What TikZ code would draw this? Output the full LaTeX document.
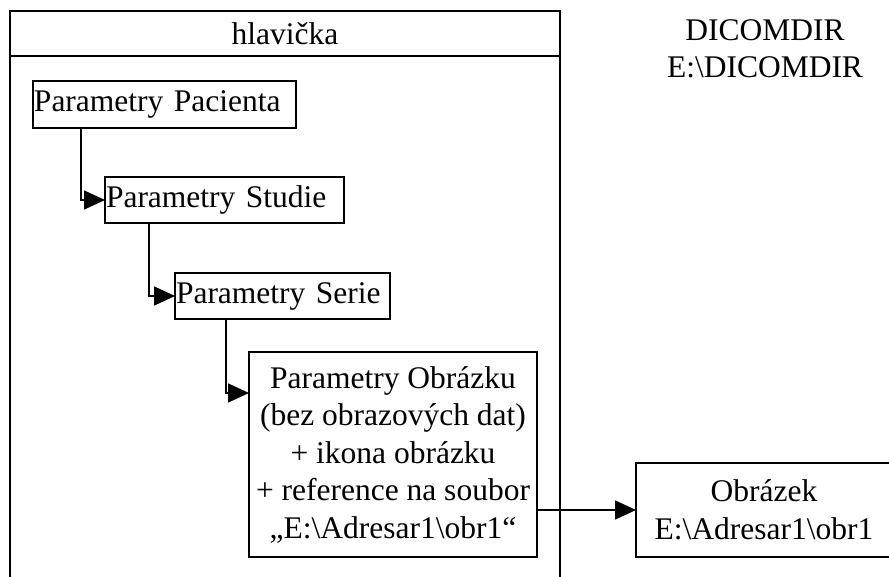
\documentclass[tikz,border=0pt]{standalone}
\usepackage{fontspec}
\setmainfont{Liberation Serif}
\usetikzlibrary{arrows.meta,calc}
\begin{document}
\begin{tikzpicture}[x=1pt,y=-1pt,
  every node/.style={font=\fontsize{31.5}{37.5}\selectfont},
  box/.style={draw,line width=1.6pt,inner sep=0pt,outer sep=0pt},
  leftbox/.style={box,anchor=north west,align=left,inner xsep=1pt},
  link/.style={line width=1.6pt,-{Triangle[length=21pt,width=19pt]}},
  plain/.style={line width=1.6pt}]
\useasboundingbox (0,0) rectangle (889,576);
\clip (0,0) rectangle (889,576);
% outer frame with its header
\draw[plain] (10,600) -- (10,11) -- (560,11) -- (560,600);
\node[box,minimum width=550pt,minimum height=45pt] (head) at (285,33.5) {hlavička};
% hierarchy of records
\node[leftbox,minimum width=263pt,minimum height=47pt,text width=261pt] (pac) at (33,81) {Parametry Pacienta};
\node[leftbox,minimum width=239pt,minimum height=46pt,text width=237pt] (stu) at (105,177) {Parametry Studie};
\node[leftbox,minimum width=215pt,minimum height=46pt,text width=213pt] (ser) at (175,273) {Parametry Serie};
\node[box,minimum width=288pt,minimum height=205pt,align=center] (obr) at (393,454.5)
  {Parametry Obrázku\\(bez obrazových dat)\\+ ikona obrázku\\+ reference na soubor\\„E:\textbackslash Adresar1\textbackslash obr1“};
\node[box,minimum width=256pt,minimum height=94pt,align=center] (img) at (764,510)
  {Obrázek\\E:\textbackslash Adresar1\textbackslash obr1};
\node[align=center,inner sep=0pt] (dir) at (765,49) {DICOMDIR\\E:\textbackslash DICOMDIR};
% connectors
\coordinate (pacout) at ($(pac.south west)+(48,0)$);
\coordinate (stuout) at ($(stu.south west)+(44,0)$);
\coordinate (serout) at ($(ser.south west)+(51,0)$);
\coordinate (obrin) at ($(obr.north west)+(0,41)$);
\draw[link] (pacout) |- (stu.west);
\draw[link] (stuout) |- (ser.west);
\draw[link] (serout) |- (obrin);
\draw[link] (obr.east |- img.west) -- (img.west);
\end{tikzpicture}
\end{document}
